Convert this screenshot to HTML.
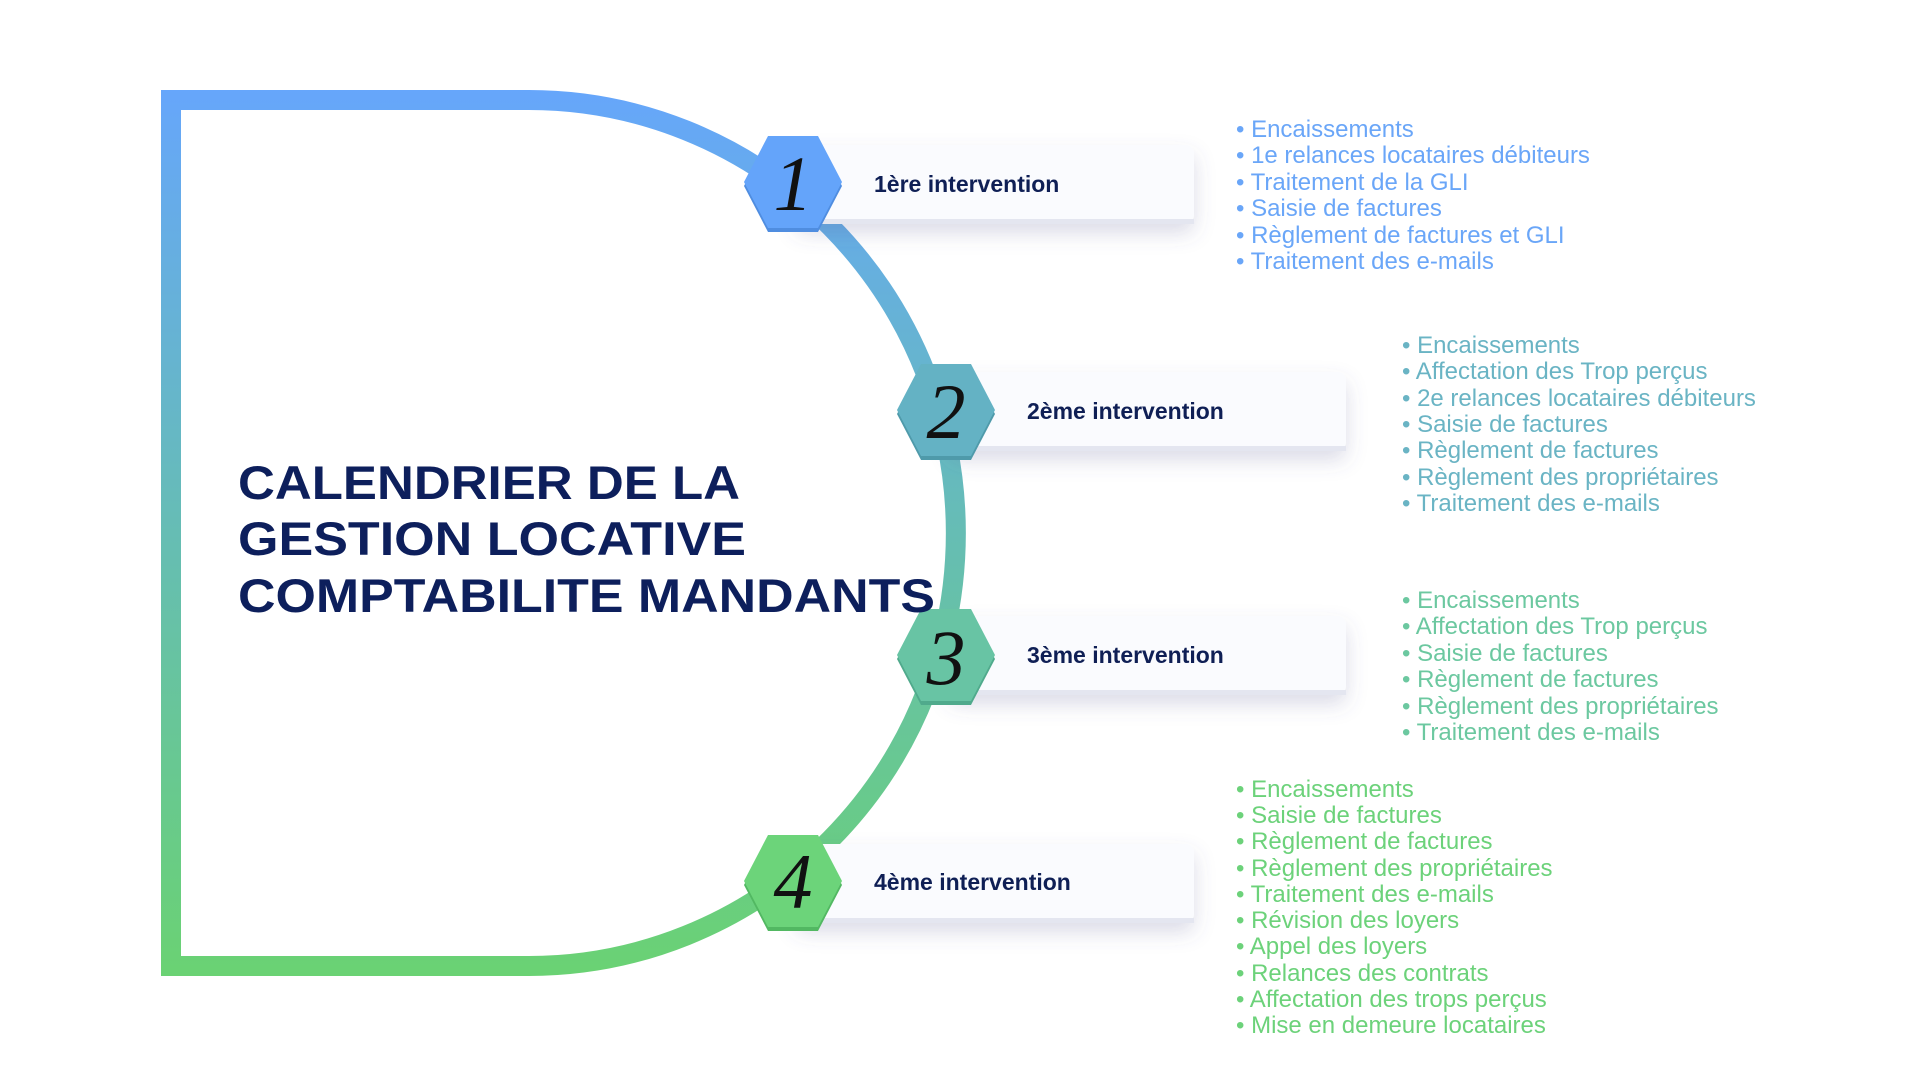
<!DOCTYPE html>
<html><head><meta charset="utf-8"><style>
html,body{margin:0;padding:0;background:#fff;width:1920px;height:1080px;overflow:hidden}
svg{display:block}
.lbl{font-family:"Liberation Sans",sans-serif;font-weight:bold;font-size:23px;fill:#0f1f55}
.li{font-family:"Liberation Sans",sans-serif;font-size:24px}
.num{font-family:"Liberation Serif",serif;font-style:italic;font-size:78px;fill:#111}
</style></head><body>
<svg width="1920" height="1080" viewBox="0 0 1920 1080" xmlns="http://www.w3.org/2000/svg">
<defs>
<linearGradient id="g" x1="0" y1="90" x2="0" y2="976" gradientUnits="userSpaceOnUse">
<stop offset="0" stop-color="#66a6fb"/><stop offset="0.5" stop-color="#66bdb4"/><stop offset="1" stop-color="#6ad273"/>
</linearGradient>
<filter id="sh" x="-20%" y="-40%" width="140%" height="200%"><feDropShadow dx="0" dy="10" stdDeviation="10" flood-color="#5a5f90" flood-opacity="0.22"/></filter>
</defs>
<path d="M171 100 H529 A427 433 0 0 1 529 966 H171 Z" fill="none" stroke="url(#g)" stroke-width="20"/>

<g filter="url(#sh)">
<rect x="796" y="145" width="398" height="78" rx="8" fill="#fafbfe"/>
<rect x="950" y="372" width="396" height="78" rx="8" fill="#fafbfe"/>
<rect x="950" y="616" width="396" height="78" rx="8" fill="#fafbfe"/>
<rect x="796" y="844" width="398" height="78" rx="8" fill="#fafbfe"/>
</g>
<rect x="816" y="219" width="378" height="5" fill="#e4e6f0"/>
<rect x="970" y="446" width="376" height="5" fill="#e4e6f0"/>
<rect x="970" y="690" width="376" height="5" fill="#e4e6f0"/>
<rect x="816" y="918" width="378" height="5" fill="#e4e6f0"/>

<g>
<polygon points="744,186 768,140 818,140 842,186 818,232 768,232" fill="#4f8de0"/>
<polygon points="744,182 768,136 818,136 842,182 818,228 768,228" fill="#64a4fa"/>
<text class="num" x="793" y="210" text-anchor="middle">1</text>
<polygon points="897,414 921,368 971,368 995,414 971,460 921,460" fill="#4f9aaa"/>
<polygon points="897,410 921,364 971,364 995,410 971,456 921,456" fill="#64b2c4"/>
<text class="num" x="946" y="438" text-anchor="middle">2</text>
<polygon points="897,659 921,613 971,613 995,659 971,705 921,705" fill="#50aa8c"/>
<polygon points="897,655 921,609 971,609 995,655 971,701 921,701" fill="#68c4a4"/>
<text class="num" x="946" y="684" text-anchor="middle">3</text>
<polygon points="744,885 768,839 818,839 842,885 818,931 768,931" fill="#52b862"/>
<polygon points="744,881 768,835 818,835 842,881 818,927 768,927" fill="#6cd47a"/>
<text class="num" x="793" y="908" text-anchor="middle">4</text>
</g>

<text class="lbl" x="874" y="192">1ère intervention</text>
<text class="lbl" x="1027" y="419">2ème intervention</text>
<text class="lbl" x="1027" y="663">3ème intervention</text>
<text class="lbl" x="874" y="890">4ème intervention</text>

<g font-family="Liberation Sans,sans-serif" font-weight="bold" font-size="47" fill="#0d1f5c">
<text x="238" y="499" textLength="502" lengthAdjust="spacingAndGlyphs">CALENDRIER DE LA</text>
<text x="238" y="555" textLength="508" lengthAdjust="spacingAndGlyphs">GESTION LOCATIVE</text>
<text x="238" y="612" textLength="697" lengthAdjust="spacingAndGlyphs">COMPTABILITE MANDANTS</text>
</g>

<g class="li" fill="#6aa6f8">
<text x="1236" y="137">•  Encaissements</text>
<text x="1236" y="163">•  1e relances locataires débiteurs</text>
<text x="1236" y="190">•  Traitement de la GLI</text>
<text x="1236" y="216">•  Saisie de factures</text>
<text x="1236" y="243">•  Règlement de factures et GLI</text>
<text x="1236" y="269">•  Traitement des e-mails</text>
</g>
<g class="li" fill="#6ab4c4">
<text x="1402" y="353">•  Encaissements</text>
<text x="1402" y="379">•  Affectation des Trop perçus</text>
<text x="1402" y="406">•  2e relances locataires débiteurs</text>
<text x="1402" y="432">•  Saisie de factures</text>
<text x="1402" y="458">•  Règlement de factures</text>
<text x="1402" y="485">•  Règlement des propriétaires</text>
<text x="1402" y="511">•  Traitement des e-mails</text>
</g>
<g class="li" fill="#6cc8a0">
<text x="1402" y="608">•  Encaissements</text>
<text x="1402" y="634">•  Affectation des Trop perçus</text>
<text x="1402" y="661">•  Saisie de factures</text>
<text x="1402" y="687">•  Règlement de factures</text>
<text x="1402" y="714">•  Règlement des propriétaires</text>
<text x="1402" y="740">•  Traitement des e-mails</text>
</g>
<g class="li" fill="#6cd27a">
<text x="1236" y="797">•  Encaissements</text>
<text x="1236" y="823">•  Saisie de factures</text>
<text x="1236" y="849">•  Règlement de factures</text>
<text x="1236" y="876">•  Règlement des propriétaires</text>
<text x="1236" y="902">•  Traitement des e-mails</text>
<text x="1236" y="928">•  Révision des loyers</text>
<text x="1236" y="954">•  Appel des loyers</text>
<text x="1236" y="981">•  Relances des contrats</text>
<text x="1236" y="1007">•  Affectation des trops perçus</text>
<text x="1236" y="1033">•  Mise en demeure locataires</text>
</g>
</svg>
</body></html>
